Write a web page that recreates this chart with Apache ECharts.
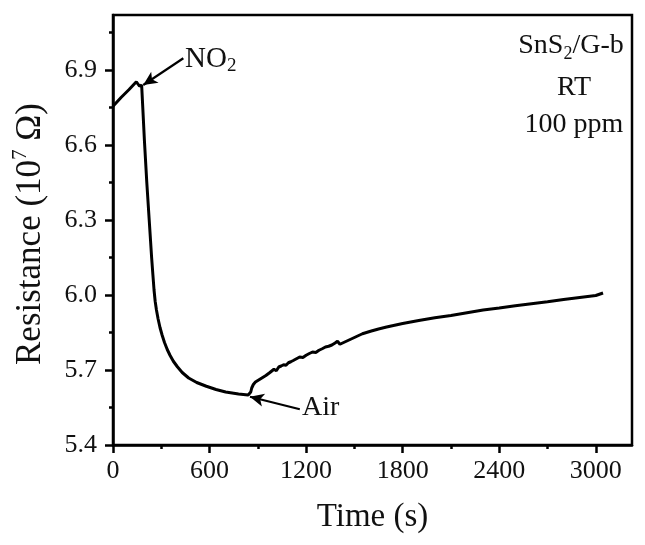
<!DOCTYPE html>
<html><head><meta charset="utf-8">
<script src="https://cdn.jsdelivr.net/npm/echarts@6/dist/echarts.min.js"></script>
<style>html,body{margin:0;padding:0;background:#fff}#c{width:645px;height:545px}</style>
</head><body><div id="c"></div>
<script>
// Time (s)
const timeS = [0, 50, 100, 145, 165, 178, 185, 195, 210, 225, 240, 248, 255, 262, 270, 280, 292, 305, 320, 337, 355, 375, 400, 430, 470, 520, 580, 640, 700, 780, 840, 851,
  856, 862, 872, 885, 900, 925, 950, 975, 1000, 1015, 1030, 1045, 1060, 1075, 1090, 1105, 1120, 1140, 1160, 1180, 1200, 1220, 1240, 1260, 1280, 1300, 1320, 1340, 1360, 1380, 1395, 1405, 1410, 1420, 1450,
  1500, 1550, 1600, 1650, 1700, 1750, 1800, 1900, 2000, 2100, 2200, 2300, 2400, 2500, 2600, 2700, 2800, 2900, 3000, 3045];
// Resistance (10^7 Ohm)
const resistance = [6.755, 6.79, 6.822, 6.853, 6.835, 6.84, 6.75, 6.62, 6.45, 6.30, 6.15, 6.08, 6.02, 5.975, 5.94, 5.905, 5.87, 5.84, 5.81, 5.782, 5.758, 5.735, 5.713, 5.69, 5.668, 5.65, 5.635, 5.622, 5.612, 5.604, 5.600, 5.598,
  5.612, 5.628, 5.642, 5.652, 5.658, 5.668, 5.678, 5.690, 5.703, 5.697, 5.712, 5.716, 5.721, 5.719, 5.729, 5.733, 5.738, 5.745, 5.752, 5.750, 5.759, 5.766, 5.772, 5.770, 5.779, 5.785, 5.792, 5.795, 5.800, 5.808, 5.815, 5.820, 5.803, 5.806, 5.815,
  5.830, 5.845, 5.855, 5.864, 5.872, 5.879, 5.886, 5.898, 5.909, 5.918, 5.929, 5.940, 5.948, 5.957, 5.965, 5.973, 5.982, 5.990, 5.998, 6.008];

const xMajorTicks = [0, 600, 1200, 1800, 2400, 3000];
const xMinorTicks = [300, 900, 1500, 2100, 2700];
const yMajorTicks = [5.4, 5.7, 6.0, 6.3, 6.6, 6.9];
const yMinorTicks = [5.55, 5.85, 6.15, 6.45, 6.75, 7.05];
const xRange = [0, 3225];
const yRange = [5.4, 7.12];

// annotation arrows [start, end] in data coordinates
const no2Arrow = [[437, 6.947], [188, 6.84]];
const airArrow = [[1161, 5.543], [851, 5.593]];

const FONT = 'Liberation Serif';
const INK = '#111';

const seriesData = timeS.map((t, i) => [t, resistance[i]]);

const chart = echarts.init(document.getElementById('c'), null, {renderer: 'canvas'});

const axisLineStyle = {color: '#000', width: 2.5};

chart.setOption({
  animation: false,
  backgroundColor: '#fff',
  grid: {left: 113, right: 13, top: 15, bottom: 100, show: true, borderColor: '#000', borderWidth: 2.5, backgroundColor: 'transparent'},
  xAxis: [{
    type: 'value', position: 'bottom', min: xRange[0], max: xRange[1],
    axisLine: {show: true, lineStyle: axisLineStyle},
    axisTick: {show: true, customValues: xMajorTicks, length: 8, lineStyle: {color: '#000', width: 2.5}},
    axisLabel: {customValues: xMajorTicks, margin: 13, fontFamily: FONT, fontSize: 26, color: INK,
      formatter: v => String(v)},
    splitLine: {show: false},
    name: 'Time (s)', nameLocation: 'middle', nameGap: 56,
    nameTextStyle: {fontFamily: FONT, fontSize: 33, color: INK}
  }, {
    type: 'value', position: 'bottom', min: xRange[0], max: xRange[1],
    axisLine: {show: false},
    axisTick: {show: true, customValues: xMinorTicks, length: 4, lineStyle: {color: '#000', width: 2.5}},
    axisLabel: {show: false},
    splitLine: {show: false}
  }],
  yAxis: [{
    type: 'value', position: 'left', min: yRange[0], max: yRange[1],
    axisLine: {show: true, lineStyle: axisLineStyle},
    axisTick: {show: true, customValues: yMajorTicks, length: 8, lineStyle: {color: '#000', width: 2.5}},
    axisLabel: {customValues: yMajorTicks, margin: 16, fontFamily: FONT, fontSize: 26, color: INK,
      formatter: v => Number(v).toFixed(1)},
    splitLine: {show: false}
  }, {
    type: 'value', position: 'left', min: yRange[0], max: yRange[1],
    axisLine: {show: false},
    axisTick: {show: true, customValues: yMinorTicks, length: 4, lineStyle: {color: '#000', width: 2.5}},
    axisLabel: {show: false},
    splitLine: {show: false}
  }],
  series: [{
    type: 'line', xAxisIndex: 0, yAxisIndex: 0, data: seriesData,
    showSymbol: false, symbol: 'none', smooth: false,
    lineStyle: {color: '#000', width: 3}, itemStyle: {color: '#000'},
    markLine: {
      silent: true, animation: false, symbol: ['none', 'arrow'], symbolSize: [10, 14],
      label: {show: false},
      lineStyle: {color: '#000', width: 2.2, type: 'solid'},
      data: [
        [{coord: no2Arrow[0]}, {coord: no2Arrow[1]}],
        [{coord: airArrow[0]}, {coord: airArrow[1]}]
      ]
    }
  }],
  graphic: [
    {type: 'text', x: 31, y: 234, rotation: Math.PI / 2,
      style: {text: 'Resistance (10{sup|7} Ω)', font: '35px "Liberation Serif"', fill: INK, align: 'center', verticalAlign: 'middle', lineHeight: 42,
        rich: {sup: {fontFamily: FONT, fontSize: 21, fill: INK, verticalAlign: 'top', lineHeight: 21}}}},
    {type: 'text', left: 185, top: 42, style: {text: 'NO{sub|2}', font: '29px "Liberation Serif"', fill: INK, lineHeight: 34,
      rich: {sub: {fontFamily: FONT, fontSize: 19, fill: INK, verticalAlign: 'bottom', lineHeight: 19}}}},
    {type: 'text', left: 302, top: 394, style: {text: 'Air', font: '28px "Liberation Serif"', fill: INK}},
    {type: 'text', x: 571, y: 46, style: {text: 'SnS{sub|2}/G-b', font: '28px "Liberation Serif"', fill: INK, align: 'center', verticalAlign: 'middle', lineHeight: 34,
      rich: {sub: {fontFamily: FONT, fontSize: 18, fill: INK, verticalAlign: 'bottom', lineHeight: 18}}}},
    {type: 'text', x: 574, y: 88, style: {text: 'RT', font: '28px "Liberation Serif"', fill: INK, align: 'center', verticalAlign: 'middle'}},
    {type: 'text', x: 574, y: 125, style: {text: '100 ppm', font: '28px "Liberation Serif"', fill: INK, align: 'center', verticalAlign: 'middle'}}
  ]
});
</script></body></html>
